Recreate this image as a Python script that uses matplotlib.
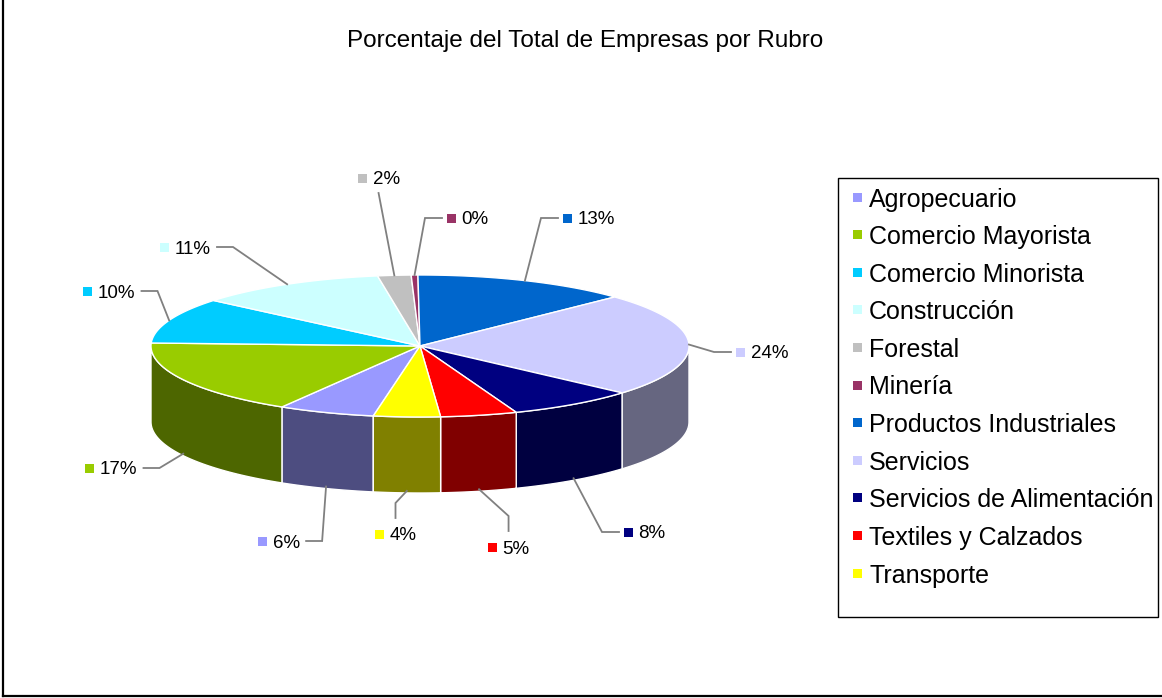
import numpy as np
import matplotlib
matplotlib.use("Agg")
import matplotlib.pyplot as plt
from matplotlib.patches import Polygon, Rectangle
import matplotlib.colors as mcolors

# ---------------- data ----------------
categories = ["Agropecuario", "Comercio Mayorista", "Comercio Minorista",
              "Construcción", "Forestal", "Minería", "Productos Industriales",
              "Servicios", "Servicios de Alimentación", "Textiles y Calzados",
              "Transporte"]
shares = [5.8, 17.1, 10.4, 11.4, 2.0, 0.4, 13.0, 23.6, 7.7, 4.6, 4.0]
colors = ["#9999FF", "#99CC00", "#00CCFF", "#CCFFFF", "#C0C0C0", "#993366",
          "#0066CC", "#CCCCFF", "#000080", "#FF0000", "#FFFF00"]
title = "Porcentaje del Total de Empresas por Rubro"

# ---------------- layout ----------------
W, H = 1162, 698
CX, CY, RX, RY, DEPTH = 420, 346, 269, 71, 76
FIRST_SLICE_ANGLE = 190          # clockwise from 12 o'clock, like Excel
FONT = "Liberation Sans"
LEADER_COLOR = "#808080"
# label marker centres and side of the leader line
LABEL_POS = {
    "Agropecuario": (262, 541, "l"),
    "Comercio Mayorista": (89, 468, "l"),
    "Comercio Minorista": (87, 291, "l"),
    "Construcción": (164, 247, "l"),
    "Forestal": (362, 178, "t"),
    "Minería": (451, 218, "r"),
    "Productos Industriales": (567, 218, "r"),
    "Servicios": (740, 352, "r"),
    "Servicios de Alimentación": (628, 532, "r"),
    "Textiles y Calzados": (492, 547, "b"),
    "Transporte": (379, 534, "b"),
}

fig = plt.figure(figsize=(W / 100, H / 100), dpi=100)
ax = fig.add_axes([0, 0, 1, 1])
ax.set_xlim(0, W)
ax.set_ylim(H, 0)
ax.axis("off")


def pt(a_deg, dy=0.0):
    a = np.radians(a_deg)
    return CX + RX * np.cos(a), CY - RY * np.sin(a) + dy


def darker(c, f=0.5):
    r, g, b = mcolors.to_rgb(c)
    return (r * f, g * f, b * f)


vals = np.array(shares, dtype=float)
total = vals.sum()
cum = np.concatenate([[0], np.cumsum(vals)])[:-1]

slices = []
for i, v in enumerate(vals):
    c0 = FIRST_SLICE_ANGLE + 360 * cum[i] / total
    c1 = c0 + 360 * v / total
    a0, a1 = 90 - c0, 90 - c1     # math angles, a1 < a0
    slices.append((a0, a1))

# side walls (front half only)
for i, (a0, a1) in enumerate(slices):
    for lo_w, hi_w in [(-180, 0), (-540, -360)]:
        lo, hi = max(a1, lo_w), min(a0, hi_w)
        if hi - lo <= 0:
            continue
        t = np.linspace(hi, lo, 80)
        top = [pt(a) for a in t]
        bot = [pt(a, DEPTH) for a in t[::-1]]
        ax.add_patch(Polygon(top + bot, closed=True, facecolor=darker(colors[i]),
                             edgecolor="white", linewidth=1.0, zorder=1))

# top faces
for i, (a0, a1) in enumerate(slices):
    n = max(4, int(abs(a0 - a1) * 2))
    t = np.linspace(a0, a1, n)
    pts = [(CX, CY)] + [pt(a) for a in t]
    ax.add_patch(Polygon(pts, closed=True, facecolor=colors[i],
                         edgecolor="white", linewidth=1.0, zorder=2))

# data labels with leader lines
renderer = fig.canvas.get_renderer()
for i, (a0, a1) in enumerate(slices):
    name = categories[i]
    mx, my, side = LABEL_POS[name]
    pct = f"{round(vals[i] / total * 100):.0f}%"
    ax.add_patch(Rectangle((mx - 4.5, my - 4.5), 9, 9, facecolor=colors[i],
                           edgecolor="none", zorder=5))
    txt = ax.text(mx + 10.5, my, pct, fontsize=13.5, family=FONT, color="black",
                  ha="left", va="center_baseline", zorder=5)
    tw = txt.get_window_extent(renderer).width
    m = (a0 + a1) / 2
    if np.sin(np.radians(m)) < -0.05:
        anchor = pt(m, DEPTH - 2)
    else:
        anchor = pt(m)
    if side == "r":
        end = (mx - 9, my)
        elbow = (mx - 26, my)
    elif side == "l":
        end = (mx + 10 + tw + 7, my)
        elbow = (end[0] + 16, my)
    elif side == "b":
        xc = (mx - 4 + mx + 10 + tw) / 2
        end = (xc, my - 16)
        elbow = (xc, my - 31)
    else:  # 't'
        xc = (mx - 4 + mx + 10 + tw) / 2
        end = (xc, my + 15)
        elbow = end
    xs = [anchor[0], elbow[0], end[0]]
    ys = [anchor[1], elbow[1], end[1]]
    ax.plot(xs, ys, color=LEADER_COLOR, linewidth=1.3, zorder=4,
            solid_joinstyle="miter")

# title
ax.text(585, 38, title, fontsize=17.5, family=FONT, ha="center",
        va="center_baseline", color="black")

# legend
LEG_X0, LEG_Y0, LEG_X1, LEG_Y1 = 838, 178, 1158, 617
ax.add_patch(Rectangle((LEG_X0, LEG_Y0), LEG_X1 - LEG_X0, LEG_Y1 - LEG_Y0,
                       facecolor="white", edgecolor="black", linewidth=1.0,
                       zorder=6))
row0, step = 197, (573 - 197) / (len(categories) - 1)
for i, name in enumerate(categories):
    y = row0 + i * step
    ax.add_patch(Rectangle((853, y - 4.5), 9, 9, facecolor=colors[i],
                           edgecolor="none", zorder=7))
    ax.text(869, y, name, fontsize=18, family=FONT, ha="left",
            va="center_baseline", color="black", zorder=7)

# chart-area border (left and bottom visible)
ax.plot([3, 3], [0, 696], color="black", linewidth=1.6, zorder=8)
ax.plot([3, W], [696, 696], color="black", linewidth=1.6, zorder=8)

fig.savefig("out.png", dpi=100)
